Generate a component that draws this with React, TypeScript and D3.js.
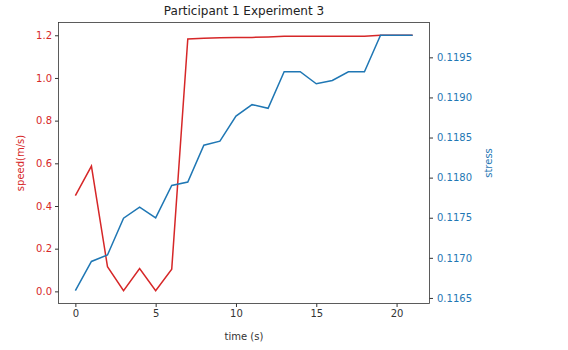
import React, { useRef, useEffect } from "react";
import * as d3 from "d3";

const time = [0, 1, 2, 3, 4, 5, 6, 7, 8, 9, 10, 11, 12, 13, 14, 15, 16, 17, 18, 19, 20, 21];
const speed = [
  0.449, 0.587, 0.116, 0.003, 0.107, 0.003, 0.104, 1.183, 1.186, 1.188, 1.19, 1.19,
  1.192, 1.195, 1.196, 1.195, 1.195, 1.196, 1.196, 1.2, 1.2, 1.2,
];
const stress = [
  0.11659, 0.116955, 0.117035, 0.117494, 0.117632, 0.117498, 0.117903, 0.117945,
  0.118405, 0.118455, 0.118768, 0.11891, 0.118864, 0.11932, 0.11932, 0.11917,
  0.119211, 0.11932, 0.11932, 0.119775, 0.119775, 0.119775,
];
const xTicks = [0, 5, 10, 15, 20];
const speedTicks = [0, 0.2, 0.4, 0.6, 0.8, 1.0, 1.2];
const stressTicks = [0.1165, 0.117, 0.1175, 0.118, 0.1185, 0.119, 0.1195];

export default function App() {
  const svgRef = useRef<SVGSVGElement>(null);

  useEffect(() => {
    const width = 568;
    const height = 350;
    const left = 58.5;
    const right = 429.5;
    const top = 22.5;
    const bottom = 303.5;
    const red = "#d62728";
    const blue = "#1f77b4";
    const font = "DejaVu Sans, sans-serif";

    const svg = d3.select(svgRef.current).attr("width", width).attr("height", height);
    svg.selectAll("*").remove();

    const pad = (lo: number, hi: number) => [lo - (hi - lo) * 0.05, hi + (hi - lo) * 0.05];

    const x = d3.scaleLinear().domain(pad(d3.min(time)!, d3.max(time)!)).range([left, right]);
    const ySpeed = d3
      .scaleLinear()
      .domain(pad(d3.min(speed)!, d3.max(speed)!))
      .range([bottom, top]);
    const yStress = d3
      .scaleLinear()
      .domain(pad(d3.min(stress)!, d3.max(stress)!))
      .range([bottom, top]);

    const xAxis = svg
      .append("g")
      .attr("transform", `translate(0,${bottom})`)
      .call(d3.axisBottom(x).tickValues(xTicks).tickSize(3.5).tickPadding(3).tickFormat(d3.format("d")));
    const leftAxis = svg
      .append("g")
      .attr("transform", `translate(${left},0)`)
      .call(d3.axisLeft(ySpeed).tickValues(speedTicks).tickSize(3.5).tickPadding(3).tickFormat(d3.format(".1f")));
    const rightAxis = svg
      .append("g")
      .attr("transform", `translate(${right},0)`)
      .call(d3.axisRight(yStress).tickValues(stressTicks).tickSize(3.5).tickPadding(4).tickFormat(d3.format(".4f")));

    [xAxis, leftAxis, rightAxis].forEach((g) => {
      g.select(".domain").remove();
      g.selectAll("text").style("font-family", font).style("font-size", "10px");
      g.selectAll("line").attr("stroke", "#333");
    });
    xAxis.selectAll("text").attr("fill", "#333");
    leftAxis.selectAll("text").attr("fill", red);
    rightAxis.selectAll("text").attr("fill", blue);

    const line = (ys: number[], y: d3.ScaleLinear<number, number>) =>
      d3
        .line<number>()
        .x((_, i) => x(time[i]))
        .y((d) => y(d))(ys);

    svg
      .append("path")
      .attr("d", line(speed, ySpeed))
      .attr("fill", "none")
      .attr("stroke", red)
      .attr("stroke-width", 1.5);

    svg
      .append("path")
      .attr("d", line(stress, yStress))
      .attr("fill", "none")
      .attr("stroke", blue)
      .attr("stroke-width", 1.5);

    svg
      .append("rect")
      .attr("x", left)
      .attr("y", top)
      .attr("width", right - left)
      .attr("height", bottom - top)
      .attr("fill", "none")
      .attr("stroke", "#333")
      .attr("stroke-width", 0.8);

    svg
      .append("text")
      .text("Participant 1 Experiment 3")
      .attr("x", (left + right) / 2)
      .attr("y", 15)
      .attr("text-anchor", "middle")
      .style("font-family", font)
      .style("font-size", "12px")
      .attr("fill", "#222");

    svg
      .append("text")
      .text("time (s)")
      .attr("x", (left + right) / 2)
      .attr("y", 340)
      .attr("text-anchor", "middle")
      .style("font-family", font)
      .style("font-size", "10px")
      .attr("fill", "#333");

    svg
      .append("text")
      .text("speed(m/s)")
      .attr("transform", `translate(23.5,${(top + bottom) / 2}) rotate(-90)`)
      .attr("text-anchor", "middle")
      .style("font-family", font)
      .style("font-size", "10px")
      .attr("fill", red);

    svg
      .append("text")
      .text("stress")
      .attr("transform", `translate(492,${(top + bottom) / 2}) rotate(-90)`)
      .attr("text-anchor", "middle")
      .style("font-family", font)
      .style("font-size", "10px")
      .attr("fill", blue);
  }, []);

  return (
    <svg
      ref={svgRef}
      style={{ position: "absolute", left: 0, top: 0, background: "#fff" }}
    ></svg>
  );
}
